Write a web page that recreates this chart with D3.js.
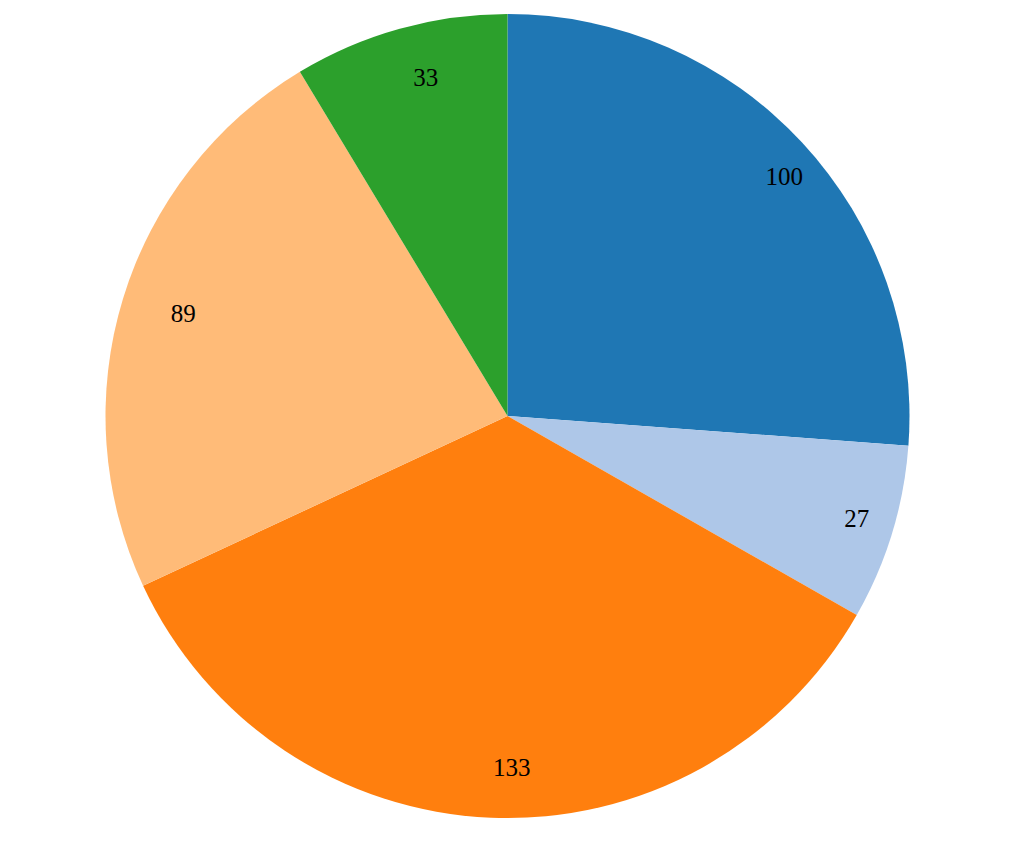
<!DOCTYPE html>
<html>
<head>
<meta charset="utf-8">
<script src="https://cdnjs.cloudflare.com/ajax/libs/d3/7.8.5/d3.min.js"></script>
<style>
    body { margin: 0; background: #fff; }
    text { font-family: "Liberation Serif", "Times New Roman", serif; font-size: 25px; fill: #000; }
</style>
</head>
<body>
<div id="my_pie"></div>
<script>
var values = [100, 27, 133, 89, 33];
var colors = ["#1f77b4", "#aec7e8", "#ff7f0e", "#ffbb78", "#2ca02c"];

var width = 1024,
    height = 851,
    radius = 402;

var piesvg = d3.select("#my_pie")
    .append("svg")
    .attr("width", width)
    .attr("height", height)
    .append("g")
    .attr("transform", "translate(507.5,416)");

var color = d3.scaleOrdinal()
    .domain(d3.range(values.length))
    .range(colors);

var pie = d3.pie().sort(null).value(function(d) {
    return d;
});

var arc = d3.arc().outerRadius(radius).innerRadius(0);
// labels sit on a ring a bit inside the edge
var labelArc = d3.arc().outerRadius(radius - 50).innerRadius(radius - 50);

var slices = piesvg.selectAll(".arc")
    .data(pie(values))
    .enter()
    .append("g")
    .attr("class", "arc");

slices.append("path")
    .attr("d", arc)
    .attr("fill", function(d, i) {
        return color(i);
    });

slices.append("text")
    .attr("transform", function(d) {
        return "translate(" + labelArc.centroid(d) + ")";
    })
    .attr("dy", "0.35em")
    .text(function(d) {
        return d.data;
    });
</script>
</body>
</html>
